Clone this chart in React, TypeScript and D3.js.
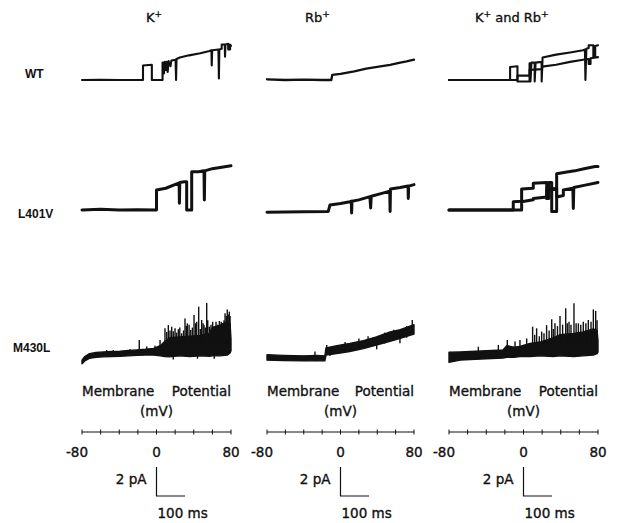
import * as d3 from 'd3'

// ---- labels ----
const columnTitles = ['K+', 'Rb+', 'K+ and Rb+']
const rowLabels = ['WT', 'L401V', 'M430L']
const axisTicks = [-80, -60, -40, -20, 0, 20, 40, 60, 80]
const axisTickLabels = [-80, 0, 80]
const scaleBarPA = 2
const scaleBarMs = 100

// ---- single-channel traces, [mV, pA] ----
const wtK = [
  [-80, 0], [-60, 0.02], [-40, 0], [-14.5, 0], [-14.5, 1.0], [-5, 1.05], [-5, 0], [6.5, 0],
  [6.5, 1.2], [8, 1.2], [8, 0.45], [9, 1.25], [10, 0.7], [11, 1.25], [12, 0.55], [13, 1.3],
  [15, 0.95], [16, 1.35], [20.5, 1.4], [21, 0], [21.5, 1.45], [25, 1.55], [35, 1.7], [47, 1.85],
  [57, 2.0], [59, 2.05], [59.3, 1.0], [59.8, 2.05], [66.5, 2.1], [67, 0.1], [67.5, 2.1], [70, 2.15],
  [70, 2.45], [73.3, 2.45], [73.6, 1.6], [74, 2.45], [77, 2.5], [77, 2.1], [79, 2.1], [79, 2.45], [80, 2.35],
]
const wtRb = [
  [-80, 0.05], [-60, 0], [-40, 0.03], [-20, 0], [-10, 0], [-9, 0.35], [0, 0.42], [15, 0.6],
  [28, 0.78], [40, 0.9], [54, 1.05], [65, 1.2], [72, 1.28], [80, 1.4],
]
const wtKRbA = [
  [-80, 0], [-14.4, 0], [-14.4, 0.9], [-6.5, 0.95], [-6.5, -0.1], [6.5, -0.1], [6.5, 1.15], [7.5, 1.15],
  [7.5, -0.1], [8.5, 1.2], [12, 1.2], [12, -0.1], [13, 1.2], [19.5, 1.25], [19.5, -0.1], [20.5, 1.55],
  [35, 1.75], [50, 1.9], [64, 2.05], [66, 2.1], [66.5, 0], [67.5, 2.15], [70, 2.2], [70, 2.4],
  [75, 2.4], [75, 1.6], [77, 1.6], [77, 2.35], [80, 2.4],
]
const wtKRbB = [
  [-80, 0], [-6.5, 0], [-6.5, 0.3], [6.5, 0.3], [6.5, 0.7], [20, 0.75], [20, 0.92], [35, 1.05],
  [50, 1.25], [64, 1.4], [70, 1.45], [70, 1.1], [72, 1.1], [72, 1.5], [80, 1.58],
]
const l401vK = [
  [-80, 0], [-60, 0.05], [-40, 0], [-20, 0.02], [0, 0], [0, 1.38], [10, 1.5], [23, 1.84],
  [24.3, 1.84], [24.6, 0.46], [25, 1.9], [30, 1.95], [32.4, 1.95], [32.4, 0], [37.8, 0], [37.8, 2.64],
  [45, 2.64], [51, 2.7], [51.4, 0.69], [51.8, 2.7], [60, 2.85], [70, 2.95], [80, 3.05],
]
const l401vRb = [
  [-80, -0.15], [-40, -0.12], [-13.3, -0.1], [-11.5, 0.34], [0, 0.45], [10.3, 0.57], [11.8, 0.6],
  [12.1, -0.2], [12.5, 0.6], [20, 0.7], [32, 0.92], [32.8, 0.14], [33.5, 0.95], [45, 1.15],
  [53.6, 1.3], [54, -0.1], [54.4, 1.45], [65, 1.55], [73.5, 1.65], [73.8, 0.8], [74.2, 1.65], [80, 1.75],
]
const l401vKRbA = [
  [-80, 0], [-11, 0], [-11, 0.57], [-2, 0.6], [-2, 1.45], [10.5, 1.5], [10.5, 1.84], [24.9, 1.9],
  [24.9, 0.8], [27, 0.8], [27, 1.9], [30.3, 1.9], [30.3, -0.1], [35.6, -0.1], [35.6, 2.5], [45, 2.6],
  [55, 2.7], [65, 2.85], [77, 3.0], [80, 3.0],
]
const l401vKRbB = [
  [-80, 0], [-2, 0], [-2, 0.57], [10.5, 0.7], [10.5, 0.8], [24.9, 0.9], [24.9, 1.4], [35.6, 1.5],
  [35.6, 0.9], [42.8, 1.0], [42.8, 1.38], [53, 1.5], [53.5, 0.11], [54, 1.55], [65, 1.7], [80, 1.9],
]

// ---- noisy M430L records: envelope [mV, low pA, high pA] and spikes [mV, from pA, to pA] ----
const m430lKBand = [
  [-80, -0.4, -0.15], [-77, -0.2, 0.1], [-72, -0.02, 0.3], [-65, 0.05, 0.38], [-57, 0.08, 0.42],
  [-48, 0.1, 0.45], [-39, 0.12, 0.47], [-30, 0.15, 0.52], [-21, 0.18, 0.56], [-12, 0.2, 0.6],
  [-3, 0.2, 0.66], [4, 0.15, 0.85], [9, 0.1, 1.15], [14, 0.08, 1.4], [25, 0.15, 1.45], [36, 0.1, 1.5],
  [47, 0.15, 1.55], [57, 0.12, 1.7], [60, 0.15, 2.1], [68, 0.15, 2.25], [76, 0.2, 2.5], [79, 0.35, 2.4],
  [80, 0.5, 1.3],
]
const m430lKSpikes = [
  [-53.5, 0.3, 0.55], [-46.4, 0.3, 0.55], [-28.5, 0.35, 0.6], [-18.5, 0.4, 1.24], [-10.5, 0.4, 0.8],
  [-1.6, 0.5, 0.85], [3.8, 0.6, 1.24], [9.1, 0.8, 2.05], [11, 1.0, 1.8], [12.7, 0.9, 2.27],
  [14.5, 1.0, 1.9], [16.3, 1.0, 2.16], [18, 1.0, 1.85], [19.9, 1.0, 2.05], [21.5, 1.0, 1.75],
  [23.4, 1.0, 1.98], [25, 1.0, 2.1], [27, 1.0, 1.7], [29, 1.0, 1.9], [30.6, 1.0, 2.73], [32, 1.0, 2.2],
  [33.1, 1.0, 2.39], [35, 1.0, 2.3], [36.7, 1.0, 1.93], [38.5, 1.0, 2.1], [40.3, 1.0, 2.96],
  [42, 1.0, 2.4], [43.2, 1.0, 2.5], [45.3, 1.0, 3.54], [47, 1.0, 2.0], [48.5, 1.0, 2.62],
  [50, 1.0, 2.4], [51, 1.0, 2.27], [52.5, 1.0, 2.1], [53.9, 1.0, 3.8], [55, 1.0, 2.6], [56.7, 1.0, 2.16],
  [58.5, 1.0, 2.3], [60.3, 1.0, 2.5], [62, 1.0, 2.2], [63.9, 1.0, 2.5], [65.5, 1.0, 2.3],
  [67.5, 1.0, 2.55], [69.5, 1.0, 2.5], [71.1, 1.0, 2.39], [72.5, 1.0, 2.6], [73.6, 1.0, 3.08],
  [75, 1.0, 2.9], [76, 1.0, 3.35], [77, 1.0, 3.0], [78.2, 1.0, 3.2], [79, 1.0, 2.9],
  [18, -0.1, 0.3], [44, -0.05, 0.3], [62, -0.05, 0.3],
]
const m430lRbBand = [
  [-80, -0.15, 0.22], [-62, -0.18, 0.18], [-40, -0.2, 0.15], [-26, -0.18, 0.18], [-17, -0.2, 0.15],
  [-15.8, 0.2, 0.7], [-4, 0.3, 0.85], [10, 0.45, 1.0], [25, 0.65, 1.2], [39, 0.9, 1.45],
  [54, 1.15, 1.8], [65, 1.35, 1.95], [80, 1.65, 2.3],
]
const m430lRbSpikes = [
  [-27.8, 0.1, 0.44], [-15, 0.5, 0.9], [-11.4, 0.14, 0.5], [5, 0.4, 1.1], [20, 0.7, 1.35],
  [30, 0.8, 1.5], [39.4, 0.6, 1.2], [48, 1.0, 1.75], [58, 1.2, 1.95], [64.7, 1.01, 1.5],
  [72, 1.4, 2.2], [78.1, 1.8, 2.62],
]
const m430lKRbBand = [
  [-80, -0.3, 0.4], [-68, -0.15, 0.42], [-57, -0.1, 0.45], [-40, -0.05, 0.5], [-22, 0, 0.55],
  [-18, 0.05, 0.85], [-10, 0.05, 0.75], [-4, 0.1, 0.8], [7, 0.1, 1.0], [18, 0.15, 1.1], [32, 0.1, 1.4],
  [39, 0.15, 1.6], [54, 0.1, 1.7], [64, 0.15, 1.8], [75, 0.2, 2.0], [79, 0.3, 1.9], [80, 0.4, 1.2],
]
const m430lKRbSpikes = [
  [-48.5, 0.4, 0.78], [-27, 0.4, 0.9], [-17.4, 0.5, 1.24], [-9.1, 0.5, 1.13], [-3.8, 0.5, 1.24],
  [3.4, 0.6, 1.35], [9.8, 0.8, 2.16], [12, 0.8, 1.6], [14.1, 0.8, 2.05], [17, 0.9, 1.5],
  [19.5, 0.9, 1.82], [22, 0.9, 1.7], [24.8, 0.9, 2.27], [27.5, 1.0, 1.9], [30.3, 1.0, 2.67],
  [32, 1.0, 2.0], [33.8, 1.0, 2.39], [36.5, 1.0, 2.2], [39.2, 1.0, 2.9], [42, 1.0, 2.3],
  [45.3, 1.0, 3.43], [47, 1.0, 2.4], [48.9, 1.0, 2.5], [51, 1.0, 2.3], [54.2, 1.0, 3.77],
  [56.5, 1.0, 2.4], [58.9, 1.0, 2.39], [61.5, 1.0, 2.3], [64.2, 1.0, 2.5], [67, 1.0, 2.4],
  [69.6, 1.0, 2.62], [72.5, 1.0, 2.5], [75, 1.0, 3.35], [77.5, 1.0, 3.25], [79, 1.0, 2.6],
]

// ---- layout ----
const W = 621
const H = 523
const colRange = [[82, 231], [267, 414], [449, 598]]
const rowZero = [80, 210, 358]
const pxPerPA = 14.5
const titleX = [146, 305, 475]
const titleY = 22
const rowLabelX = [25, 18, 13]
const rowLabelY = [78, 218, 352]
const axisY = 432
const barZero = 496
const ink = '#111'
const font = '"DejaVu Sans", Verdana, sans-serif'

const linePanels = [
  { row: 0, col: 0, traces: [wtK], width: 2.1 },
  { row: 0, col: 1, traces: [wtRb], width: 2.3 },
  { row: 0, col: 2, traces: [wtKRbA, wtKRbB], width: 2.1 },
  { row: 1, col: 0, traces: [l401vK], width: 3 },
  { row: 1, col: 1, traces: [l401vRb], width: 3 },
  { row: 1, col: 2, traces: [l401vKRbA, l401vKRbB], width: 3 },
]
const noisyPanels = [
  { row: 2, col: 0, band: m430lKBand, spikes: m430lKSpikes },
  { row: 2, col: 1, band: m430lRbBand, spikes: m430lRbSpikes },
  { row: 2, col: 2, band: m430lKRbBand, spikes: m430lKRbSpikes },
]

// scanned print looks heavier than plain DejaVu, so give the glyphs a hairline outline
const textInk = { fill: ink, stroke: ink, strokeWidth: 0.35 }

function Title({ text, x }: { text: string; x: number }) {
  const parts = text.split('+')
  return (
    <text x={x} y={titleY} fontSize={13} {...textInk}>
      {parts.map((p, i) => (
        <tspan key={i}>
          <tspan dy={i > 0 ? 5 : 0}>{p}</tspan>
          {i < parts.length - 1 && <tspan dy={-5} fontSize={9}>+</tspan>}
        </tspan>
      ))}
    </text>
  )
}

export default function App() {
  const xs = colRange.map(r => d3.scaleLinear().domain([-80, 80]).range(r))
  const ys = rowZero.map(z => d3.scaleLinear().domain([0, 1]).range([z, z - pxPerPA]))
  const barY = d3.scaleLinear().domain([0, scaleBarPA]).range([barZero, barZero - scaleBarPA * pxPerPA])
  const barT = d3.scaleLinear().domain([0, scaleBarMs]).range([0, 28.5])

  return (
    <svg width={W} height={H} style={{ position: 'absolute', left: 0, top: 0, background: '#fff' }}
      fontFamily={font}>
      <rect width={W} height={H} fill="#fff" />

      {columnTitles.map((t, i) => <Title key={t} text={t} x={titleX[i]} />)}

      {rowLabels.map((r, i) => (
        <text key={r} x={rowLabelX[i]} y={rowLabelY[i]} fontSize={12} fontWeight="bold"
          fontFamily='"Liberation Sans", Arial, sans-serif' fill={ink}>{r}</text>
      ))}

      {linePanels.map(p => {
        const line = d3.line<number[]>().x(d => xs[p.col](d[0])).y(d => ys[p.row](d[1]))
        return (
          <g key={`${p.row}-${p.col}`}>
            {p.traces.map((t, i) => (
              <path key={i} d={line(t) ?? ''} fill="none" stroke={ink} strokeWidth={p.width}
                strokeLinejoin="round" strokeLinecap="round" />
            ))}
          </g>
        )
      })}

      {noisyPanels.map(p => {
        const x = xs[p.col]
        const y = ys[p.row]
        const area = d3.area<number[]>().x(d => x(d[0])).y0(d => y(d[1])).y1(d => y(d[2]))
        return (
          <g key={`${p.row}-${p.col}`}>
            <path d={area(p.band) ?? ''} fill={ink} stroke={ink} strokeWidth={1.4} strokeLinejoin="round" />
            {p.spikes.map((s, i) => (
              <line key={i} x1={x(s[0])} x2={x(s[0])} y1={y(s[1])} y2={y(s[2])}
                stroke={ink} strokeWidth={1.4} />
            ))}
          </g>
        )
      })}

      {xs.map((x, c) => (
        <g key={c} fontSize={13.5}>
          <text x={x(-80)} y={396} {...textInk}>Membrane</text>
          <text x={x(80)} y={396} textAnchor="end" {...textInk}>Potential</text>
          <text x={x(0)} y={416} textAnchor="middle" {...textInk}>(mV)</text>
          <line x1={x(-80)} x2={x(80)} y1={axisY} y2={axisY} stroke={ink} strokeWidth={1} />
          {axisTicks.map(t => (
            <line key={t} x1={x(t)} x2={x(t)} y1={axisY - 2.5} y2={axisY + 2.5} stroke={ink} strokeWidth={1} />
          ))}
          {axisTickLabels.map(t => (
            <text key={t} x={x(t)} dx={t < 0 ? -5 : 0} y={457} textAnchor="middle" {...textInk}>{t}</text>
          ))}
          <path d={`M${x(0)},${barY(scaleBarPA)}V${barY(0)}H${x(0) + barT(scaleBarMs)}`}
            fill="none" stroke={ink} strokeWidth={1.2} />
          <text x={x(0) - 10} y={484} textAnchor="end" {...textInk}>{`${scaleBarPA} pA`}</text>
          <text x={x(0) + 1} y={518} {...textInk}>{`${scaleBarMs} ms`}</text>
        </g>
      ))}
    </svg>
  )
}
